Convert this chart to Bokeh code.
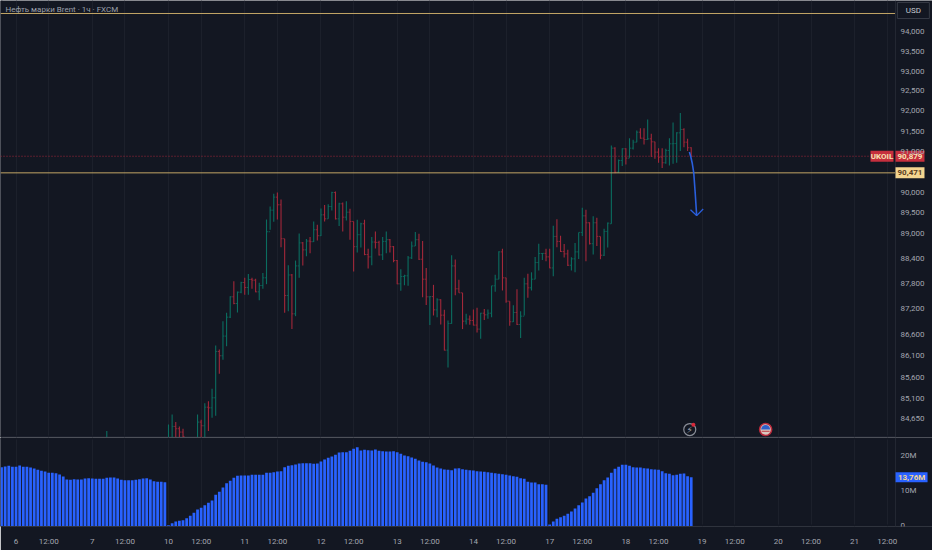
from bokeh.plotting import figure
from bokeh.layouts import column
from bokeh.models import Range1d, FixedTicker, NumeralTickFormatter, Label, LogAxis, LinearAxis
from bokeh.core.properties import value
from bokeh.embed import file_html
from bokeh.resources import INLINE

# ---- hourly bars: index 0 is the first bar of the 10th ----
bar_index = [-17, 0, 1, 2, 3, 4] + list(range(8, 145))

bar_open = [84000, 84050, 84150, 84469, 84416, 84340,
    84100, 84568, 84484, 84910, 84895, 85126, 86200, 86100, 86560, 87005,
    87485, 87327, 87595, 87825, 87706, 87896, 87880, 87603, 87754, 87936,
    89040, 89562, 89878, 89692, 88872, 87516, 88004, 87083, 88220, 88772,
    88604, 88816, 88800, 89088, 88944, 89448, 89352, 89651, 89991, 89352,
    89716, 89392, 89513, 89288, 88680, 88968, 89232, 88492, 88436, 88792,
    88784, 88484, 88808, 88848, 88680, 88348, 87793, 87968, 87984, 88412,
    88696, 88848, 88380, 87904, 87485, 87490, 87177, 87414, 87052, 86231,
    86857, 88220, 87675, 87580, 86911, 86958, 86927, 86818, 86724, 87098,
    87060, 87098, 87746, 87904, 88556, 87936, 87382, 86896, 87114, 86833,
    87028, 87793, 87698, 87904, 88300, 88516, 88520, 88436, 88172, 88928,
    88808, 88564, 88508, 88236, 88388, 88556, 89024, 89424, 89256, 88752,
    89256, 88928, 88476, 89048,
    89232, 91078, 90488, 90775, 91062, 90832, 91078, 91226, 91472, 91324,
    91292, 91308, 91234, 90980, 90857, 90718, 91021, 91185, 91190, 91456,
    91538, 91226, 91087]
bar_high = [84363, 84515, 84743, 84568, 84469, 84416,
    84743, 84621, 85002, 85049, 85333, 86340, 86247, 86911, 87107, 87501,
    87856, 87611, 87840, 87940, 88030, 87936, 87912, 87817, 88052, 89336,
    89651, 89959, 89991, 89821, 88872, 88236, 88028, 88348, 89000, 88792,
    88864, 88912, 89288, 89208, 89602, 89684, 89708, 90008, 90016, 89740,
    89748, 89781, 89594, 89288, 89328, 89256, 89328, 88628, 88912, 89048,
    88824, 88912, 89048, 88864, 88696, 88364, 88140, 88012, 88460, 88808,
    89032, 88992, 88816, 88172, 87493, 87769, 87453, 87430, 87177, 86927,
    88476, 88372, 87888, 87580, 87083, 87044, 87185, 87224, 87106, 87200,
    87185, 87746, 88012, 88572, 88628, 87936, 87382, 87288, 87667, 87145,
    87936, 88036, 88068, 88436, 88752, 88532, 88628, 88628, 89184, 89344,
    88944, 88744, 88604, 88428, 88768, 89024, 89618, 89570, 89272, 89416,
    89376, 88928, 89112, 89264,
    91144, 91103, 90800, 91078, 91078, 91324, 91283, 91513, 91570, 91570,
    91784, 91431, 91234, 91078, 91078, 91062, 91324, 91710, 91472, 91948,
    91570, 91308, 91103]
bar_low = [84000, 84000, 84000, 84000, 84050, 84050,
    84000, 84000, 84050, 84363, 84667, 84712, 85681, 86006, 86325, 86982,
    87311, 87114, 87572, 87532, 87532, 87675, 87595, 87406, 87675, 87785,
    89088, 89280, 89336, 88668, 87106, 87145, 86724, 87028, 87936, 88228,
    88452, 88524, 88792, 88832, 88936, 89288, 89352, 89554, 89336, 89176,
    89048, 89312, 88848, 88084, 88540, 88660, 88476, 88156, 88236, 88636,
    88468, 88364, 88524, 88540, 88308, 87785, 87627, 87761, 87746, 88388,
    88696, 88364, 87477, 87294, 86818, 87044, 87005, 86833, 86224, 85828,
    86849, 87524, 87580, 86724, 86833, 86826, 86810, 86646, 86497, 86935,
    86966, 87005, 87603, 87904, 87635, 87343, 86802, 86888, 86818, 86513,
    87044, 87461, 87635, 87904, 88108, 88364, 88332, 88164, 87976, 88668,
    88556, 88420, 88220, 88108, 88068, 88388, 88936, 88332, 88736, 88492,
    88696, 88380, 88460, 88660,
    89232, 90463, 90472, 90636, 90677, 90841, 91046, 91226, 91308, 91169,
    91283, 90857, 90816, 90718, 90587, 90693, 90652, 90693, 90718, 91005,
    91103, 91005, 90873]
bar_close = [84100, 84150, 84469, 84416, 84340, 84241,
    84568, 84484, 84910, 84895, 85126, 86200, 86100, 86560, 87005, 87485,
    87327, 87595, 87825, 87706, 87896, 87880, 87603, 87754, 87936, 89040,
    89562, 89878, 89692, 88872, 87516, 88004, 87083, 88220, 88772, 88604,
    88816, 88800, 89088, 88944, 89448, 89352, 89651, 89991, 89352, 89716,
    89392, 89513, 89288, 88680, 88968, 89232, 88492, 88436, 88792, 88784,
    88484, 88808, 88848, 88680, 88348, 87793, 87968, 87984, 88412, 88696,
    88848, 88380, 87904, 87485, 87490, 87177, 87414, 87052, 86231, 86857,
    88220, 87675, 87580, 86911, 86958, 86927, 86818, 86724, 87098, 87060,
    87098, 87746, 87904, 88556, 87936, 87382, 86896, 87114, 86833, 87028,
    87793, 87698, 87904, 88300, 88516, 88520, 88436, 88172, 88928, 88808,
    88564, 88508, 88236, 88388, 88556, 89024, 89424, 89256, 88752, 89256,
    88928, 88476, 89048, 89248,
    91078, 90488, 90775, 91062, 90832, 91078, 91226, 91472, 91324, 91292,
    91308, 91234, 90980, 90857, 90718, 91021, 91185, 91190, 91456, 91538,
    91226, 91087, 90879]

# ---- volume-like histogram (millions), first value at index -46 ----
volume_first_index = -46
volume = [16.59, 16.78, 16.97, 16.68, 16.68, 17.06, 16.68, 16.68, 16.50, 16.22,
    15.84, 15.56, 15.37, 14.99, 14.99, 14.90, 14.52, 13.95, 13.11, 13.02,
    13.20, 13.11, 13.11, 13.39, 13.49, 13.39, 13.30, 13.30, 13.30, 13.58,
    13.67, 13.67, 13.39, 13.02, 12.92, 12.92, 12.92, 13.02, 13.20, 13.39,
    13.49, 13.11, 12.64, 12.45, 12.45, 12.35,
    0.21, 0.77, 1.24, 1.43, 1.62, 2.18, 2.84, 3.69, 4.63, 5.10,
    5.86, 6.52, 7.18, 8.78, 9.62, 10.85, 12.07, 12.73, 13.58, 14.14,
    14.24, 14.24, 14.24, 14.42, 14.42, 14.42, 14.42, 14.99, 14.99, 15.18,
    15.37, 15.46, 16.59, 16.97, 17.16, 17.34, 17.63, 17.72, 17.72, 17.72,
    17.53, 17.63, 18.19, 18.76, 19.23, 19.60, 20.07, 20.73, 20.83, 20.83,
    21.20, 21.77, 22.24, 21.30, 21.49, 21.39, 21.30, 21.58, 21.20, 21.11,
    21.02, 21.02, 21.11, 20.83, 20.36, 19.89, 19.70, 19.32, 18.95, 18.47,
    18.10, 18.00, 17.63, 17.06, 16.50, 16.22, 15.93, 15.84, 15.74, 16.22,
    16.31, 16.03,
    15.84, 15.74, 15.65, 15.46, 15.37, 15.27, 15.18, 14.99, 14.90, 14.71,
    14.62, 14.42, 14.24, 14.05, 13.86, 13.48, 13.30, 12.45, 12.26, 12.26,
    11.79, 11.79, 11.60,
    0.40, 1.24, 2.00, 2.47, 2.84, 3.41, 4.07, 4.91, 5.86, 6.61,
    7.74, 8.40, 9.34, 10.66, 11.79, 12.92, 13.67, 14.99, 16.12, 16.69,
    17.25, 17.25, 16.97, 16.59, 16.50, 16.50, 16.31, 16.21, 16.03, 15.93,
    15.84, 15.46, 14.90, 14.71, 14.33, 14.42, 14.71, 14.80, 14.05, 13.76]

# ---- axes ----
x_tick_index = [-42, -33, -21, -12, 0, 9, 21, 30, 42, 51, 63, 72, 84, 93, 105, 114,
                126, 135, 147, 156, 168, 177, 189, 198]
x_tick_text = ["6", "12:00", "7", "12:00", "10", "12:00", "11", "12:00", "12", "12:00",
               "13", "12:00", "14", "12:00", "17", "12:00", "18", "12:00", "19", "12:00",
               "20", "12:00", "21", "12:00"]
price_ticks = [94000, 93500, 93000, 92500, 92000, 91500, 91000, 90000, 89500, 89000,
               88400, 87800, 87200, 86600, 86100, 85600, 85100, 84650]
volume_ticks = [0, 10, 20]

# ---- levels, arrow, events ----
upper_level = 94459
lower_level = 90471
last_price = 90879
last_volume = 13.76
arrow_x = [143.5, 143.9, 144.3, 144.7, 145.1, 145.5]
arrow_y = [90985, 90860, 90700, 90470, 89980, 89430]
arrow_head_x = [143.8, 145.5, 147.3]
arrow_head_y = [89570, 89430, 89590]
event_x = [143.6, 164.5]
event_y = 84398

BG = "#131722"
GRID = "#1c202b"
SEP = "#232732"
TXT = "#a3a6af"
FONT = "Roboto"
GREEN = "#0b6d60"
RED = "#a3283a"
GOLD = "#c2a566"
BLUE = "#2962ff"
X_LEFT, X_PANE_END, X_RIGHT = -46.28, 200.28, 210.47
Y_LOW, Y_HIGH = 84216, 94792
V_LOW, V_HIGH = -0.17, 24.97


def base(fig):
    fig.background_fill_color = BG
    fig.border_fill_color = BG
    fig.outline_line_color = None
    fig.min_border_left = 0
    fig.min_border_top = 0
    fig.min_border_bottom = 0
    fig.min_border_right = 0
    fig.xgrid.ticker = FixedTicker(ticks=x_tick_index)
    fig.xgrid.grid_line_color = GRID
    fig.ygrid.grid_line_color = None


def style_y(axis):
    axis.major_tick_line_color = None
    axis.minor_tick_line_color = None
    axis.major_tick_out = 0
    axis.major_tick_in = 0
    axis.minor_tick_out = 0
    axis.axis_line_color = None
    axis.major_label_text_color = TXT
    axis.major_label_text_font = FONT
    axis.major_label_text_font_size = "8px"
    axis.major_label_standoff = 5


def badge(fig, x, y, w, h, text, fill, color, line=None, bold=True):
    fig.rect([x], [y], width=w, height=h, width_units="screen", height_units="screen",
             fill_color=fill, line_color=line)
    fig.text([x], [y], text=[text], text_color=color, text_font=value(FONT), text_font_size="8px",
             text_font_style="bold" if bold else "normal", text_align="center", text_baseline="middle")


p = figure(width=932, height=437, x_range=Range1d(X_LEFT, X_RIGHT), y_range=Range1d(Y_LOW, Y_HIGH),
           y_axis_type="log", x_axis_location=None, y_axis_location=None, output_backend="svg",
           toolbar_location=None)
base(p)
price_axis = LogAxis(fixed_location=X_PANE_END, ticker=FixedTicker(ticks=price_ticks),
                     formatter=NumeralTickFormatter(format="0,0"))
style_y(price_axis)
p.add_layout(price_axis, "right")

# pane edges
p.line([X_LEFT, X_LEFT], [Y_LOW, Y_HIGH], line_color=BG, line_width=4)
p.line([X_LEFT, X_RIGHT], [Y_LOW, Y_LOW], line_color=BG, line_width=4)
p.line([X_LEFT, X_PANE_END], [Y_LOW, Y_LOW], line_color=SEP, line_width=2)

colors = [GREEN if c >= o else RED for o, c in zip(bar_open, bar_close)]
p.segment(bar_index, bar_high, bar_index, bar_low, line_color=colors, line_width=1.1)
p.segment([i - 0.42 for i in bar_index], bar_open, bar_index, bar_open, line_color=colors, line_width=0.8)
p.segment(bar_index, bar_close, [i + 0.42 for i in bar_index], bar_close, line_color=colors, line_width=0.8)

p.line([X_LEFT, X_PANE_END], [upper_level, upper_level], line_color=GOLD, line_width=1)
p.line([X_LEFT, X_PANE_END], [lower_level, lower_level], line_color=GOLD, line_width=1)
p.line([X_LEFT, 193.5], [last_price, last_price], line_color=RED, line_width=1, line_dash="1 2")
p.line([X_PANE_END, X_PANE_END], [Y_LOW, Y_HIGH], line_color=SEP, line_width=1)

p.line(arrow_x, arrow_y, line_color="#2a5fdc", line_width=1.6)
p.line(arrow_head_x, arrow_head_y, line_color="#2a5fdc", line_width=1.3)

# event icons
p.scatter([event_x[0]], [event_y], size=12, fill_color=BG, line_color="#8a8e98", line_width=1.2)
p.text([event_x[0]], [event_y], text=["\u26a1"], text_color="#a9adb6", text_font_size="9px",
       text_align="center", text_baseline="middle", text_font=value("DejaVu Sans"))
p.scatter([event_x[0] + 1.0], [event_y + 110], size=4, fill_color="#d8293a", line_color=None)
p.scatter([event_x[1]], [event_y], size=12, fill_color="#d9c9c0", line_color="#b8283a", line_width=1.6)
p.wedge([event_x[1]], [event_y], radius=4.5, radius_units="screen", start_angle=0, end_angle=3.1416,
        fill_color="#2f5fc8", line_color=None)
p.segment([event_x[1] - 1.1], [event_y - 40], [event_x[1] + 1.1], [event_y - 40], line_color="#c23a42", line_width=1)

p.add_layout(Label(x=5, x_units="screen", y=428, y_units="screen", text="Нефть марки Brent · 1ч · FXCM",
                   text_color="#9ca0aa", text_font=FONT, text_font_size="8px", text_baseline="middle"))

badge(p, 196.56, last_price, 23, 11, "UKOIL", "#c62f3e", "#f6e3b4")
badge(p, 204.27, last_price, 29, 11, "90,879", "#c62f3e", "#f6e3b4")
badge(p, 204.27, lower_level, 29, 11, "90,471", "#f3d48f", "#5a3d1e")
badge(p, 205.2, 94536, 32, 16, "USD", BG, "#c8cbd2", line="#363a45", bold=False)

v = figure(width=932, height=113, x_range=p.x_range, y_range=Range1d(V_LOW, V_HIGH),
           y_axis_location=None, output_backend="svg", toolbar_location=None)
base(v)
v.min_border_bottom = 24
volume_axis = LinearAxis(fixed_location=X_PANE_END, ticker=FixedTicker(ticks=volume_ticks))
volume_axis.major_label_overrides = {0: "0", 10: "10M", 20: "20M"}
style_y(volume_axis)
v.add_layout(volume_axis, "right")
xa = v.xaxis[0]
xa.ticker = FixedTicker(ticks=x_tick_index)
xa.major_label_overrides = dict(zip(x_tick_index, x_tick_text))
xa.major_tick_line_color = None
xa.minor_tick_line_color = None
xa.major_tick_out = 0
xa.major_tick_in = 0
xa.minor_tick_out = 0
xa.axis_line_color = None
xa.major_label_text_color = TXT
xa.major_label_text_font = FONT
xa.major_label_text_font_size = "8px"
xa.major_label_standoff = 10

# pane edges
v.line([X_LEFT, X_LEFT], [V_LOW, V_HIGH], line_color=BG, line_width=4)
v.line([X_LEFT, X_RIGHT], [V_HIGH, V_HIGH], line_color=BG, line_width=4)
v.line([X_LEFT, X_RIGHT], [V_LOW, V_LOW], line_color=BG, line_width=4)

v.vbar([volume_first_index + k for k in range(len(volume))], width=0.76, top=volume, bottom=0,
       fill_color=BLUE, line_color=None)
v.line([X_PANE_END, X_PANE_END], [V_LOW, V_HIGH], line_color=SEP, line_width=1)
badge(v, 204.7, last_volume, 32, 10, "13,76M", BLUE, "#f3d48f")

open("out.html", "w").write(file_html(column(p, v, spacing=0), INLINE))
